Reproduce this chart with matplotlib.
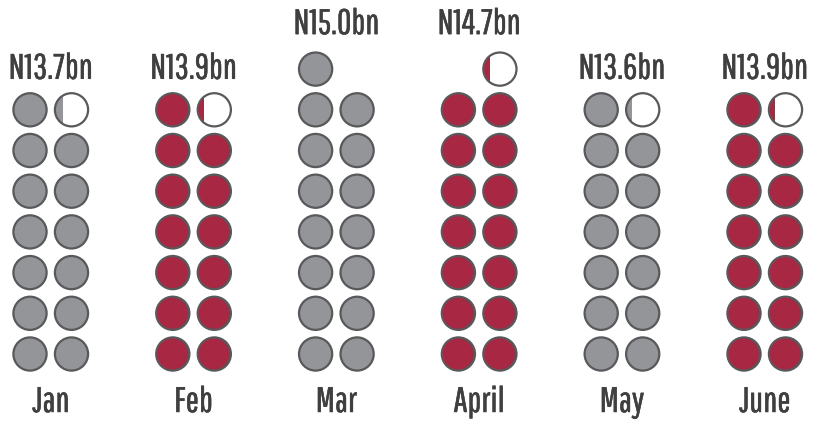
import matplotlib
matplotlib.use("Agg")
import matplotlib.pyplot as plt
from matplotlib.patches import Circle, Rectangle
import matplotlib.patheffects as pe

# Monthly totals, one circle per N1bn
months = ["Jan", "Feb", "Mar", "April", "May", "June"]
values = [13.7, 13.9, 15.0, 14.7, 13.6, 13.9]
labels = ["N13.7bn", "N13.9bn", "N15.0bn", "N14.7bn", "N13.6bn", "N13.9bn"]
highlight = [False, True, False, True, False, True]
# width of the coloured strip in the part-filled circle
partial_fill = [0.25, 0.20, 0.0, 0.20, 0.17, 0.18]

GREY = "#939598"
RED = "#a82743"
EDGE = "#58595b"
TEXT = "#3f3f3f"
FONT = ["Pathway Gothic One", "DejaVu Sans"]
BOLDEN = [pe.withStroke(linewidth=0.35, foreground=TEXT)]

fig = plt.figure(figsize=(8.17, 4.23), dpi=100)
ax = fig.add_axes([0, 0, 1, 1])
ax.set_xlim(0, 817)
ax.set_ylim(423, 0)
ax.set_aspect("equal")
ax.axis("off")

group_x0 = 30.0
group_step = 142.8
col_gap = 41.5
row0_y = 354.0
row_step = 40.7
r = 16.6
lw = 1.6

for i, (m, v, lab, hi, pf) in enumerate(zip(months, values, labels, highlight, partial_fill)):
    color = RED if hi else GREY
    xl = group_x0 + i * group_step
    full = int(v)
    frac = round(v - full, 2)
    top_y = row0_y
    top_row = 0
    for k in range(full):
        row, col = divmod(k, 2)
        cx = xl + col * col_gap
        cy = row0_y - row * row_step
        ax.add_patch(Circle((cx, cy), r, facecolor=color, edgecolor=EDGE, lw=lw))
        top_y = min(top_y, cy)
        top_row = max(top_row, row)
    if frac > 0:
        # the part-filled circle always sits in the right-hand column
        row = full // 2
        cx = xl + col_gap
        cy = row0_y - row * row_step
        base = Circle((cx, cy), r, facecolor="white", edgecolor="none")
        ax.add_patch(base)
        strip = Rectangle((cx - r, cy - r), 2 * r * pf, 2 * r, facecolor=color, edgecolor="none")
        ax.add_patch(strip)
        strip.set_clip_path(base)
        ax.add_patch(Circle((cx, cy), r, facecolor="none", edgecolor=EDGE, lw=lw))
        top_y = min(top_y, cy)
        top_row = max(top_row, row)
    gx = xl + col_gap / 2
    offset = 31 if top_row < 7 else 35
    ax.text(gx, top_y - offset, lab, ha="center", va="baseline", fontsize=25.5,
            family=FONT, color=TEXT, path_effects=BOLDEN)
    ax.text(gx, 412, m, ha="center", va="baseline", fontsize=25.5,
            family=FONT, color=TEXT, path_effects=BOLDEN)

fig.savefig("out.png", dpi=100)
